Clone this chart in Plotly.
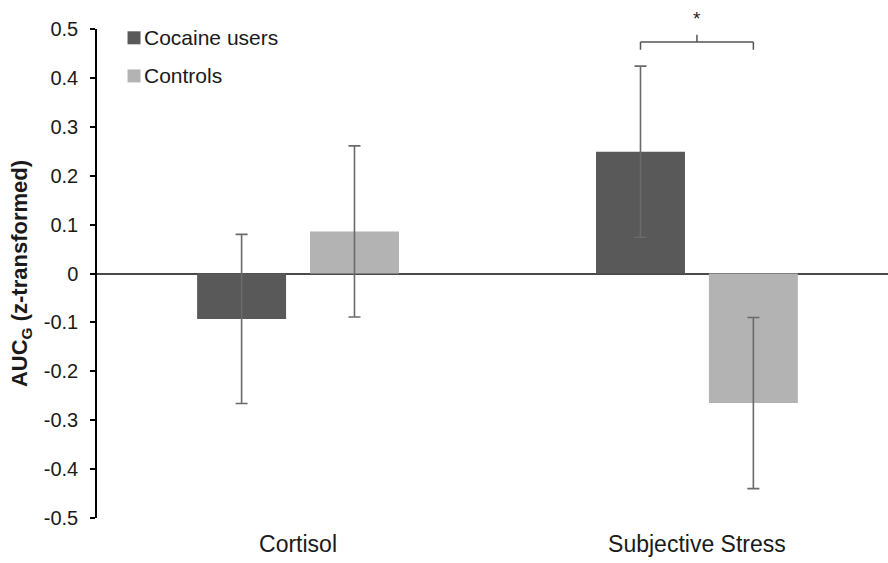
import plotly.graph_objects as go

categories = ["Cortisol", "Subjective Stress"]
series_names = ["Cocaine users", "Controls"]
cocaine_vals = [-0.093, 0.249]
cocaine_err = [0.173, 0.175]
control_vals = [0.086, -0.265]
control_err = [0.175, 0.175]
y_ticks = [0.5, 0.4, 0.3, 0.2, 0.1, 0, -0.1, -0.2, -0.3, -0.4, -0.5]
y_tick_text = ["0.5", "0.4", "0.3", "0.2", "0.1", "0", "-0.1", "-0.2", "-0.3", "-0.4", "-0.5"]

colors = ["#595959", "#b3b3b3"]
err_color = "#6a6a6a"
FONT = "Liberation Sans, Arial, sans-serif"

bargap = 0.434
bargroupgap = 0.212

fig = go.Figure()
for i, (name, vals, errs) in enumerate([(series_names[0], cocaine_vals, cocaine_err),
                                         (series_names[1], control_vals, control_err)]):
    fig.add_trace(go.Bar(
        x=categories, y=vals, name=name, showlegend=False,
        marker=dict(color=colors[i], line=dict(width=0)),
        error_y=dict(type="data", array=errs, visible=True, color=err_color,
                     thickness=1.6, width=6),
    ))

# manual legend (square swatch + label), top-left inside plot
leg_x = 0.0468
leg_y = [0.982, 0.904]
for i, name in enumerate(series_names):
    fig.add_shape(type="rect", xref="paper", yref="paper",
                  xsizemode="pixel", ysizemode="pixel",
                  xanchor=leg_x, yanchor=leg_y[i], x0=-6.5, x1=6.5, y0=-6.5, y1=6.5,
                  fillcolor=colors[i], line=dict(width=0))
    fig.add_annotation(x=leg_x, y=leg_y[i], xref="paper", yref="paper",
                       xanchor="left", yanchor="middle", xshift=8, text=name,
                       showarrow=False, font=dict(family=FONT, size=21, color="#1a1a1a"))

# significance bracket on Subjective Stress
slot = (1 - bargap) / 2
off = slot / 2
xc = 1
xl, xr = xc - off, xc + off
yb, yt, ys = 0.4734, 0.4576, 0.488
line = dict(color="#555555", width=1.5)
fig.add_shape(type="line", xref="x", yref="y", x0=xl, x1=xr, y0=yb, y1=yb, line=line)
fig.add_shape(type="line", xref="x", yref="y", x0=xl, x1=xl, y0=yb, y1=yt, line=line)
fig.add_shape(type="line", xref="x", yref="y", x0=xr, x1=xr, y0=yb, y1=yt, line=line)
fig.add_shape(type="line", xref="x", yref="y", x0=xc, x1=xc, y0=yb, y1=ys, line=line)
fig.add_annotation(x=xc, y=1.022, xref="x", yref="paper", yanchor="middle",
                   text="*", showarrow=False,
                   font=dict(family=FONT, size=19, color="#222222"))

fig.update_layout(
    width=888, height=563,
    margin=dict(l=97, r=0, t=29, b=45, autoexpand=False),
    paper_bgcolor="white", plot_bgcolor="white",
    barmode="group", bargap=bargap, bargroupgap=bargroupgap,
    font=dict(family=FONT, size=20, color="#1a1a1a"),
    showlegend=False,
)
fig.update_xaxes(range=[-0.504, 1.479], showline=False, ticks="", showgrid=False,
                 zeroline=False, ticklabelstandoff=10, tickfont=dict(size=23),
                 automargin=False)
fig.update_yaxes(range=[-0.5, 0.5], tickvals=y_ticks, ticktext=y_tick_text,
                 showline=True, linecolor="#000000", linewidth=1.5,
                 ticks="outside", ticklen=5, tickcolor="#000000", tickwidth=1.5,
                 showgrid=False, zeroline=True, zerolinecolor="#4a4a4a", zerolinewidth=2,
                 ticklabelstandoff=8, tickfont=dict(size=20), automargin=False,
                 title=dict(text="<b>AUC<sub>G</sub> (z-transformed)</b>", standoff=10,
                            font=dict(size=22)))

fig.write_html("out.html", config={"displayModeBar": False},
               post_script="document.body.style.margin='0';")
